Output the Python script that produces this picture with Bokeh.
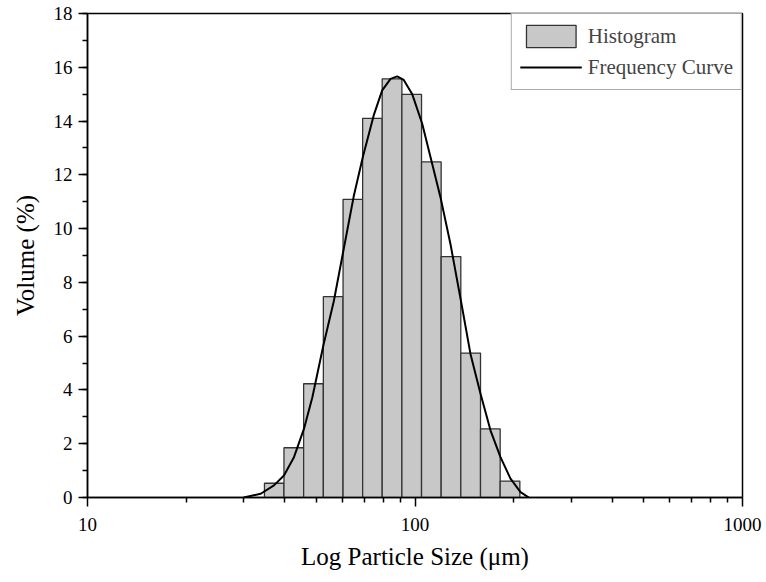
from bokeh.plotting import figure
from bokeh.models import (ColumnDataSource, Legend, LegendItem, SingleIntervalTicker,
                          PrintfTickFormatter, Range1d, FixedTicker)
from bokeh.embed import file_html
from bokeh.resources import INLINE

# Histogram bin edges (µm) and volume (%)
bin_edges = [34.7, 39.8, 45.7, 52.5, 60.3, 69.2, 79.4, 91.2, 104.7, 120.2, 138.0, 158.5, 182.0, 209.0]
bin_volume = [0.53, 1.85, 4.23, 7.47, 11.09, 14.10, 15.57, 14.99, 12.48, 8.96, 5.37, 2.55, 0.61]

# Frequency curve points
curve_x = [30.0, 33.8, 37.1, 39.8, 42.7, 45.8, 48.6, 52.5, 56.5, 60.6, 65.0, 69.3, 74.8, 79.4,
           84.2, 88.2, 92.4, 98.0, 105.2, 111.5, 119.6, 128.3, 137.7, 147.7, 158.5, 170.1,
           182.4, 195.7, 210.0, 222.6]
curve_y = [0.0, 0.14, 0.45, 0.82, 1.50, 2.55, 3.73, 5.65, 7.30, 9.25, 11.20, 12.66, 14.21, 15.14,
           15.57, 15.66, 15.53, 15.01, 13.90, 12.66, 11.17, 9.43, 7.40, 5.34, 3.86, 2.49,
           1.50, 0.70, 0.20, 0.0]

# Axis ticks
x_major_ticks = [10, 100, 1000]
x_minor_ticks = [20, 30, 40, 50, 60, 70, 80, 90, 200, 300, 400, 500, 600, 700, 800, 900]

FONT = "Liberation Serif"

p = figure(width=766, height=582, x_axis_type="log",
           x_range=Range1d(10, 1000), y_range=Range1d(0, 18),
           output_backend="svg", toolbar_location=None,
           min_border_left=87, min_border_right=24, min_border_top=13, min_border_bottom=85)

p.xgrid.visible = False
p.ygrid.visible = False
p.outline_line_color = "black"
p.outline_line_width = 1.5
p.background_fill_color = "white"
p.border_fill_color = "white"

src = ColumnDataSource(dict(left=bin_edges[:-1], right=bin_edges[1:], top=bin_volume))
q = p.quad(left="left", right="right", bottom=0, top="top", source=src,
           fill_color="#c8c8c8", line_color="#333333", line_width=1.3)
ln = p.line(curve_x, curve_y, line_color="black", line_width=2)

# axes
xa = p.xaxis[0]
xa.ticker = FixedTicker(ticks=x_major_ticks, minor_ticks=x_minor_ticks)
xa.formatter = PrintfTickFormatter(format="%d")
ya = p.yaxis[0]
ya.ticker = SingleIntervalTicker(interval=2, num_minor_ticks=2)

for ax in (xa, ya):
    ax.axis_line_color = "black"
    ax.axis_line_width = 1.5
    ax.major_tick_line_color = "black"
    ax.major_tick_line_width = 1.5
    ax.minor_tick_line_color = "black"
    ax.minor_tick_line_width = 1.5
    ax.major_tick_in = 0
    ax.major_tick_out = 9
    ax.minor_tick_in = 0
    ax.minor_tick_out = 5
    ax.major_label_text_font = FONT
    ax.major_label_text_font_size = "19px"
    ax.major_label_text_color = "black"
    ax.axis_label_text_font = FONT
    ax.axis_label_text_font_size = "25px"
    ax.axis_label_text_font_style = "normal"
    ax.axis_label_text_color = "black"

xa.axis_label = "Log Particle Size (μm)"
ya.axis_label = "Volume (%)"
xa.major_label_standoff = 11
xa.axis_label_standoff = 9
ya.major_label_standoff = 6
ya.axis_label_standoff = 12

legend = Legend(items=[LegendItem(label="Histogram", renderers=[q]),
                       LegendItem(label="Frequency Curve", renderers=[ln])],
                location="top_right", margin=0, padding=8, spacing=3,
                glyph_width=62, glyph_height=28, label_standoff=6,
                label_text_font=FONT, label_text_font_size="21px",
                border_line_color="#555555", border_line_width=1,
                background_fill_alpha=1.0)
p.add_layout(legend)

open("out.html", "w").write(file_html(p, INLINE))
